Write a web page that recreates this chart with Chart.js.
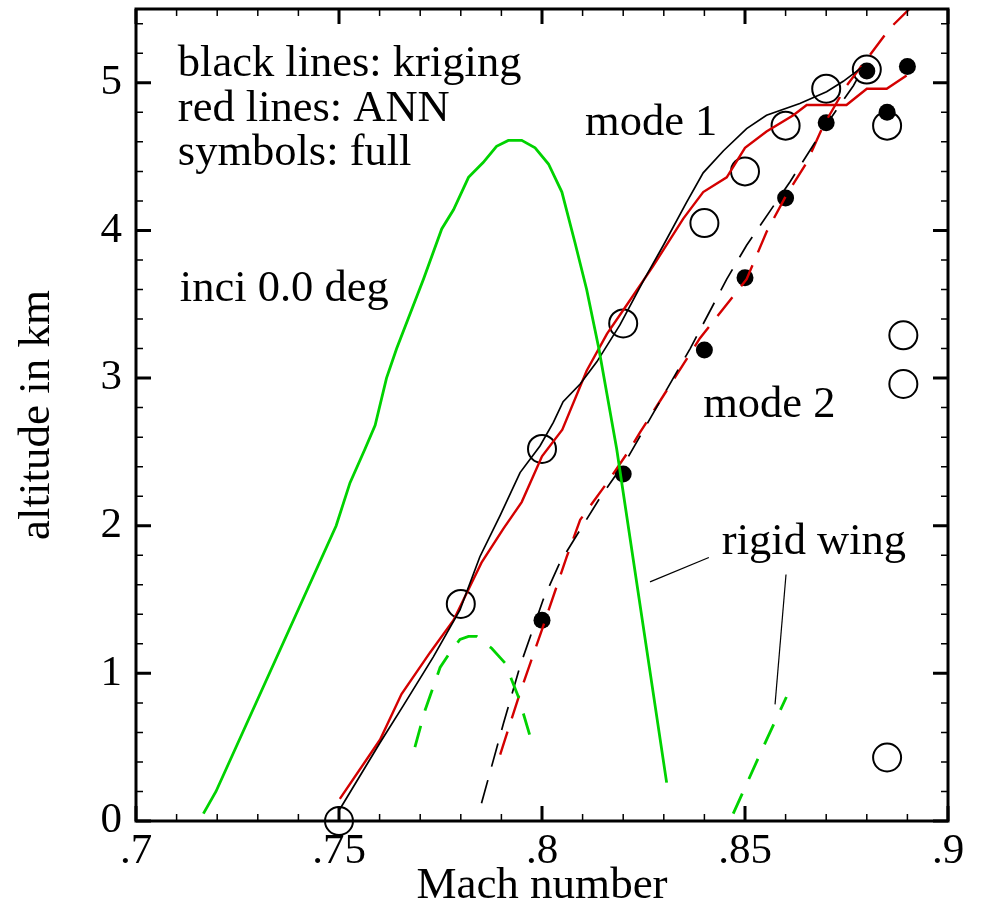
<!DOCTYPE html>
<html>
<head>
<meta charset="utf-8">
<script src="https://cdn.jsdelivr.net/npm/chart.js@4"></script>
<style>
  body { margin: 0; background: #fff; }
  canvas { display: block; }
</style>
</head>
<body>
<canvas id="flutterChart" width="981" height="909"></canvas>
<script>
// datos (Mach, altitud en km)
const greenSolidMach = [0.7166, 0.7197, 0.7493, 0.7527, 0.7564, 0.7589, 0.7617, 0.7642, 0.7708, 0.7753, 0.7782, 0.7819, 0.7855, 0.7888, 0.7917, 0.7950, 0.7983, 0.8016, 0.8049, 0.8081, 0.8110, 0.8140, 0.8184, 0.8307];
const greenSolidAlt  = [0.05, 0.20, 2.00, 2.29, 2.52, 2.68, 3.00, 3.20, 3.67, 4.01, 4.14, 4.36, 4.46, 4.57, 4.61, 4.61, 4.56, 4.45, 4.26, 3.92, 3.60, 3.20, 2.52, 0.26];

const greenDashAMach = [0.7687, 0.7712, 0.7749, 0.7773, 0.7798, 0.7819, 0.7839, 0.7876, 0.7909, 0.7942, 0.7970];
const greenDashAAlt  = [0.50, 0.75, 1.04, 1.14, 1.23, 1.25, 1.25, 1.17, 1.07, 0.84, 0.58];

const greenDashBMach = [0.8471, 0.8553, 0.8602];
const greenDashBAlt  = [0.05, 0.55, 0.84];

const krigMode1Mach = [0.7502, 0.7601, 0.7658, 0.7732, 0.7798, 0.7847, 0.7897, 0.7946, 0.7995, 0.8028, 0.8052, 0.8094, 0.8135, 0.8192, 0.8250, 0.8299, 0.8356, 0.8397, 0.8447, 0.8504, 0.8553, 0.8635, 0.8701, 0.8742, 0.8800];
const krigMode1Alt  = [0.08, 0.53, 0.78, 1.11, 1.43, 1.79, 2.07, 2.36, 2.54, 2.70, 2.84, 2.96, 3.11, 3.36, 3.66, 3.90, 4.19, 4.39, 4.54, 4.69, 4.78, 4.86, 4.94, 5.01, 5.13];

const annMode1Mach = [0.7502, 0.7601, 0.7654, 0.7724, 0.7782, 0.7851, 0.7905, 0.7950, 0.8000, 0.8050, 0.8110, 0.8160, 0.8210, 0.8274, 0.8348, 0.8397, 0.8455, 0.8500, 0.8553, 0.8619, 0.8652, 0.8750, 0.8800, 0.8849, 0.8898];
const annMode1Alt  = [0.15, 0.55, 0.86, 1.14, 1.36, 1.75, 1.98, 2.16, 2.47, 2.65, 3.05, 3.30, 3.50, 3.76, 4.08, 4.26, 4.36, 4.56, 4.67, 4.78, 4.85, 4.85, 4.96, 4.96, 5.05];

const krigMode2Mach = [0.7851, 0.7905, 0.7946, 0.8003, 0.8044, 0.8143, 0.8209, 0.8365, 0.8455, 0.8504, 0.8611, 0.8701, 0.8767, 0.8795];
const krigMode2Alt  = [0.12, 0.66, 1.05, 1.50, 1.75, 2.19, 2.45, 3.20, 3.67, 3.90, 4.33, 4.72, 4.98, 5.12];

const annMode2Mach = [0.7897, 0.7946, 0.8003, 0.8061, 0.8094, 0.8160, 0.8217, 0.8241, 0.8389, 0.8504, 0.8553, 0.8602, 0.8652, 0.8693, 0.8750, 0.8808, 0.8857, 0.8905];
const annMode2Alt  = [0.45, 0.87, 1.32, 1.79, 2.04, 2.29, 2.52, 2.63, 3.27, 3.67, 3.99, 4.24, 4.46, 4.71, 4.98, 5.19, 5.37, 5.50];

// símbolos: cálculo completo
const fullOpenMach = [0.75, 0.78, 0.80, 0.82, 0.84, 0.85, 0.86, 0.87, 0.88, 0.885, 0.889, 0.889, 0.885];
const fullOpenAlt  = [0.00, 1.47, 2.52, 3.37, 4.05, 4.40, 4.71, 4.96, 5.09, 4.71, 3.29, 2.96, 0.43];
const fullFilledMach = [0.80, 0.82, 0.84, 0.85, 0.86, 0.87, 0.88, 0.885, 0.89];
const fullFilledAlt  = [1.36, 2.35, 3.19, 3.68, 4.22, 4.73, 5.08, 4.80, 5.11];

// líneas de referencia de "rigid wing"
const leaderAMach = [0.8411, 0.8266];
const leaderAAlt  = [1.785, 1.62];
const leaderBMach = [0.8601, 0.8574];
const leaderBAlt  = [1.67, 0.79];

const xTickValues = [0.7, 0.75, 0.8, 0.85, 0.9];
const xTickLabels = ['.7', '.75', '.8', '.85', '.9'];
const yTickValues = [0, 1, 2, 3, 4, 5];
const yTickLabels = ['0', '1', '2', '3', '4', '5'];

// textos dentro del gráfico (posición en coordenadas de datos)
const notes = [
    { text: 'black lines: kriging', x: 0.7103, y: 5.044 },
    { text: 'red lines: ANN', x: 0.7103, y: 4.739 },
    { text: 'symbols: full', x: 0.7103, y: 4.440 },
    { text: 'inci 0.0 deg', x: 0.7108, y: 3.523 },
    { text: 'mode 1', x: 0.8106, y: 4.644 },
    { text: 'mode 2', x: 0.8397, y: 2.736 },
    { text: 'rigid wing', x: 0.8443, y: 1.806 }
];

const SERIF = '"Liberation Serif", "Times New Roman", serif';
const GREEN = '#00d200';
const RED = '#d40000';

function pairs(xs, ys) {
    return xs.map((x, i) => ({ x: x, y: ys[i] }));
}

function lineSet(label, xs, ys, color, width, dash) {
    return {
        label: label,
        data: pairs(xs, ys),
        showLine: true,
        borderColor: color,
        borderWidth: width,
        borderDash: dash || [],
        pointRadius: 0,
        fill: false,
        tension: 0
    };
}

// quitar el relleno automático que Chart.js reserva para las etiquetas
function noScalePadding(s) {
    s.paddingTop = 0;
    s.paddingBottom = 0;
    s.paddingLeft = 0;
    s.paddingRight = 0;
}

// marco, marcas hacia adentro y textos
const framePlugin = {
    id: 'frame',
    afterDatasetsDraw(chart) {
        const { ctx, chartArea: a, scales: { x, y } } = chart;
        ctx.save();
        ctx.strokeStyle = '#000';
        ctx.lineCap = 'butt';

        for (let i = 0; i <= 20; i++) {
            const px = x.getPixelForValue(0.7 + i * 0.01);
            const len = i % 5 === 0 ? 15 : 7;
            ctx.beginPath();
            ctx.moveTo(px, a.bottom); ctx.lineTo(px, a.bottom - len);
            ctx.moveTo(px, a.top); ctx.lineTo(px, a.top + len);
            ctx.lineWidth = i % 5 === 0 ? 3 : 1.5;
            ctx.stroke();
        }
        for (let i = 0; i <= 27; i++) {
            const py = y.getPixelForValue(i * 0.2);
            const len = i % 5 === 0 ? 15 : 7;
            ctx.beginPath();
            ctx.moveTo(a.left, py); ctx.lineTo(a.left + len, py);
            ctx.moveTo(a.right, py); ctx.lineTo(a.right - len, py);
            ctx.lineWidth = i % 5 === 0 ? 3 : 1.5;
            ctx.stroke();
        }

        ctx.lineWidth = 3;
        ctx.strokeRect(a.left, a.top, a.right - a.left, a.bottom - a.top);

        ctx.fillStyle = '#000';
        ctx.font = '44.5px ' + SERIF;
        ctx.textAlign = 'left';
        ctx.textBaseline = 'alphabetic';
        notes.forEach(n => {
            ctx.fillText(n.text, x.getPixelForValue(n.x), y.getPixelForValue(n.y));
        });
        ctx.restore();
    }
};

document.addEventListener('DOMContentLoaded', function() {
    const ctx = document.getElementById('flutterChart').getContext('2d');

    new Chart(ctx, {
        type: 'scatter',
        data: {
            datasets: [
                lineSet('rigid wing mode 1', greenSolidMach, greenSolidAlt, GREEN, 2.8),
                lineSet('rigid wing a', greenDashAMach, greenDashAAlt, GREEN, 2.8, [22, 16]),
                lineSet('rigid wing b', greenDashBMach, greenDashBAlt, GREEN, 2.8, [22, 16]),
                lineSet('kriging mode 1', krigMode1Mach, krigMode1Alt, '#000', 1.7),
                lineSet('ANN mode 1', annMode1Mach, annMode1Alt, RED, 2.4),
                lineSet('kriging mode 2', krigMode2Mach, krigMode2Alt, '#000', 1.7, [24, 14]),
                lineSet('ANN mode 2', annMode2Mach, annMode2Alt, RED, 2.4, [24, 14]),
                lineSet('leader a', leaderAMach, leaderAAlt, '#000', 1.2),
                lineSet('leader b', leaderBMach, leaderBAlt, '#000', 1.2),
                {
                    label: 'full open',
                    data: pairs(fullOpenMach, fullOpenAlt),
                    pointRadius: 14,
                    pointBorderWidth: 2,
                    pointBorderColor: '#000',
                    pointBackgroundColor: 'rgba(0,0,0,0)',
                    clip: false
                },
                {
                    label: 'full filled',
                    data: pairs(fullFilledMach, fullFilledAlt),
                    pointRadius: 8.5,
                    pointBorderWidth: 0,
                    pointBackgroundColor: '#000',
                    clip: false
                }
            ]
        },
        options: {
            responsive: false,
            animation: false,
            layout: { autoPadding: false, padding: { top: 9, right: 33, left: 0, bottom: 0 } },
            plugins: {
                legend: { display: false },
                tooltip: { enabled: false }
            },
            scales: {
                x: {
                    type: 'linear',
                    min: 0.7,
                    max: 0.9,
                    afterFit: s => { s.height = 88; noScalePadding(s); },
                    afterBuildTicks: s => { s.ticks = xTickValues.map(v => ({ value: v })); },
                    grid: { display: false, drawTicks: false },
                    border: { display: false },
                    ticks: {
                        padding: 9,
                        color: '#000',
                        maxRotation: 0,
                        font: { family: SERIF, size: 43, lineHeight: 1 },
                        callback: (v, i) => xTickLabels[i]
                    },
                    title: {
                        display: true,
                        text: 'Mach number',
                        color: '#000',
                        padding: { top: 0, bottom: 0 },
                        font: { family: SERIF, size: 45, lineHeight: 1 }
                    }
                },
                y: {
                    type: 'linear',
                    min: 0,
                    max: 5.5,
                    afterFit: s => { s.width = 136; noScalePadding(s); },
                    afterBuildTicks: s => { s.ticks = yTickValues.map(v => ({ value: v })); },
                    grid: { display: false, drawTicks: false },
                    border: { display: false },
                    ticks: {
                        padding: 14,
                        color: '#000',
                        font: { family: SERIF, size: 43, lineHeight: 1 },
                        callback: (v, i) => yTickLabels[i]
                    },
                    title: {
                        display: true,
                        text: 'altitude in km',
                        color: '#000',
                        padding: { top: 15, bottom: 0 },
                        font: { family: SERIF, size: 45, lineHeight: 1 }
                    }
                }
            }
        },
        plugins: [framePlugin]
    });
});
</script>
</body>
</html>
